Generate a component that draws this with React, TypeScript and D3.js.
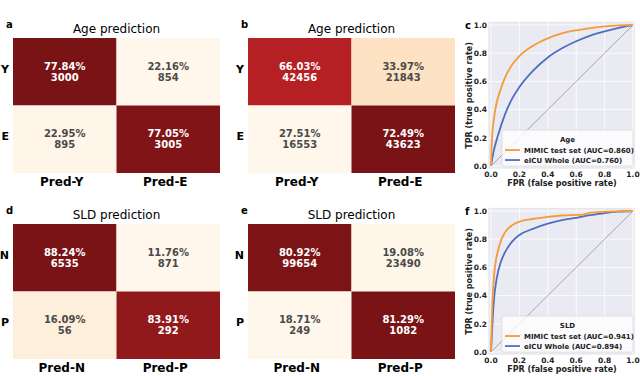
import React from "react";
import * as d3 from "d3";

// confusion matrices: [row][col] percent and counts
const agePctA = [[77.84, 22.16], [22.95, 77.05]];
const ageCntA = [[3000, 854], [895, 3005]];
const agePctB = [[66.03, 33.97], [27.51, 72.49]];
const ageCntB = [[42456, 21843], [16553, 43623]];
const sldPctD = [[88.24, 11.76], [16.09, 83.91]];
const sldCntD = [[6535, 871], [56, 292]];
const sldPctE = [[80.92, 19.08], [18.71, 81.29]];
const sldCntE = [[99654, 23490], [249, 1082]];

const ageRows = ["Y", "E"];
const ageCols = ["Pred-Y", "Pred-E"];
const sldRows = ["N", "P"];
const sldCols = ["Pred-N", "Pred-P"];

// ROC curves [fpr, tpr]
const ageMimic = [[0, 0], [0.005, 0.15], [0.01, 0.24], [0.02, 0.33], [0.04, 0.45], [0.06, 0.52], [0.1, 0.63], [0.15, 0.72], [0.2, 0.78], [0.3, 0.855], [0.4, 0.905], [0.5, 0.94], [0.6, 0.962], [0.7, 0.978], [0.8, 0.99], [0.9, 0.997], [1, 1]];
const ageEicu = [[0, 0], [0.01, 0.06], [0.02, 0.11], [0.05, 0.22], [0.1, 0.37], [0.15, 0.48], [0.2, 0.56], [0.3, 0.68], [0.4, 0.77], [0.5, 0.835], [0.6, 0.885], [0.7, 0.925], [0.8, 0.955], [0.9, 0.98], [1, 1]];
const sldMimic = [[0, 0], [0.005, 0.2], [0.01, 0.35], [0.02, 0.52], [0.03, 0.62], [0.05, 0.72], [0.07, 0.79], [0.1, 0.85], [0.15, 0.9], [0.2, 0.925], [0.3, 0.945], [0.4, 0.958], [0.5, 0.968], [0.6, 0.972], [0.65, 0.975], [0.7, 0.988], [0.8, 0.995], [0.9, 0.998], [1, 1]];
const sldEicu = [[0, 0], [0.005, 0.1], [0.01, 0.2], [0.02, 0.36], [0.04, 0.52], [0.07, 0.64], [0.1, 0.71], [0.15, 0.785], [0.2, 0.83], [0.3, 0.875], [0.4, 0.91], [0.5, 0.935], [0.6, 0.952], [0.7, 0.97], [0.8, 0.985], [0.9, 0.995], [1, 1]];

const ticks = [0, 0.2, 0.4, 0.6, 0.8, 1.0];

const FONT = "DejaVu Sans";
const ORANGE = "#f59b38";
const BLUE = "#4c6fc3";

const cmap = d3.scaleLinear<string>()
  .domain([0, 0.14, 0.5, 0.86, 1])
  .range(["#fff7ec", "#fde3c4", "#f0704e", "#b41f24", "#7a1315"]);

function Heatmap({ x0, y0, letter, title, pct, cnt, rows, cols }: any) {
  const w = 207, h = 135;
  const xb = d3.scaleBand().domain(cols).range([x0, x0 + w]);
  const yb = d3.scaleBand().domain(rows).range([y0, y0 + h]);
  const flat = pct.flat();
  const norm = d3.scaleLinear().domain([d3.min(flat), d3.max(flat)]).range([0, 1]);
  return (
    <g fontFamily={FONT}>
      <text x={x0 - 7} y={y0 - 10} fontSize={10} fontWeight="bold">{letter}</text>
      <text x={x0 + w / 2} y={y0 - 5} fontSize={12} textAnchor="middle">{title}</text>
      {rows.map((r: string, i: number) => cols.map((c: string, j: number) => {
        const t = norm(pct[i][j]);
        const cx = (xb(c) as number) + xb.bandwidth() / 2;
        const cy = (yb(r) as number) + yb.bandwidth() / 2;
        const fill = t > 0.5 ? "#ffffff" : "#4a4a4a";
        return (
          <g key={r + c}>
            <rect x={xb(c)} y={yb(r)} width={xb.bandwidth()} height={yb.bandwidth()} fill={cmap(t)} />
            <text x={cx} y={cy - 2} fontSize={10} fontWeight="bold" textAnchor="middle" fill={fill}>{pct[i][j].toFixed(2)}%</text>
            <text x={cx} y={cy + 9} fontSize={10} fontWeight="bold" textAnchor="middle" fill={fill}>{cnt[i][j]}</text>
          </g>
        );
      }))}
      {rows.map((r: string) => (
        <text key={r} x={x0 - 4} y={(yb(r) as number) + yb.bandwidth() / 2 + 1} fontSize={11} fontWeight="bold" textAnchor="end">{r}</text>
      ))}
      {cols.map((c: string) => (
        <text key={c} x={(xb(c) as number) + xb.bandwidth() / 2 - 3} y={y0 + h + 13} fontSize={12} fontWeight="bold" textAnchor="middle">{c}</text>
      ))}
    </g>
  );
}

function Roc({ top, letter, legendTitle, mimic, eicu, aucM, aucE }: any) {
  const x = d3.scaleLinear().domain([0, 1]).range([491, 633]);
  const y = d3.scaleLinear().domain([0, 1]).range([top + 141, top]);
  const line = d3.line<number[]>().x(d => x(d[0])).y(d => y(d[1])).curve(d3.curveMonotoneX);
  const lx = 502, ly = y(0.255), lw = 131, lh = 36;
  return (
    <g fontFamily={FONT}>
      <rect x={x(-0.015)} y={y(1.02)} width={x(1.01) - x(-0.015)} height={y(-0.015) - y(1.02)} fill="#eaeaf2" stroke="#dcdce4" strokeWidth={0.6} />
      {ticks.map(t => (
        <g key={t}>
          <line x1={x(t)} x2={x(t)} y1={y(-0.015)} y2={y(1.02)} stroke="#fff" strokeWidth={0.8} />
          <line x1={x(-0.015)} x2={x(1.01)} y1={y(t)} y2={y(t)} stroke="#fff" strokeWidth={0.8} />
          <text x={x(t)} y={y(0) + 11} fontSize={7.5} fontWeight="bold" textAnchor="middle" fill="#222">{t.toFixed(1)}</text>
          <text x={x(0) - 4} y={y(t) + 2.7} fontSize={7.5} fontWeight="bold" textAnchor="end" fill="#222">{t.toFixed(1)}</text>
        </g>
      ))}
      <line x1={x(0)} y1={y(0)} x2={x(1)} y2={y(1)} stroke="#888" strokeWidth={0.7} />
      <path d={line(eicu) as string} fill="none" stroke={BLUE} strokeWidth={1.8} />
      <path d={line(mimic) as string} fill="none" stroke={ORANGE} strokeWidth={1.8} />
      <rect x={lx} y={ly} width={lw} height={lh} rx={2} fill="#ffffff" fillOpacity={0.8} stroke="#d0d0d0" strokeWidth={0.6} />
      <text x={lx + lw / 2} y={ly + 12} fontSize={7} fontWeight="bold" textAnchor="middle" fill="#222">{legendTitle}</text>
      <line x1={lx + 3} x2={lx + 18} y1={ly + 20} y2={ly + 20} stroke={ORANGE} strokeWidth={1.8} />
      <text x={lx + 22} y={ly + 22.5} fontSize={7} fontWeight="bold" fill="#222">{`MIMIC test set (AUC=${aucM})`}</text>
      <line x1={lx + 3} x2={lx + 18} y1={ly + 30} y2={ly + 30} stroke={BLUE} strokeWidth={1.8} />
      <text x={lx + 22} y={ly + 32.5} fontSize={7} fontWeight="bold" fill="#222">{`eICU Whole (AUC=${aucE})`}</text>
      <text x={465} y={top + 4} fontSize={10} fontWeight="bold">{letter}</text>
      <text x={562} y={top + 161} fontSize={8} fontWeight="bold" textAnchor="middle" fill="#222">FPR (false positive rate)</text>
      <text transform={`translate(472,${y(0.5)}) rotate(-90)`} fontSize={8} fontWeight="bold" textAnchor="middle" fill="#222">TPR (true positive rate)</text>
    </g>
  );
}

export default function App() {
  return (
    <svg width={640} height={376} style={{ position: "absolute", left: 0, top: 0, background: "#fff" }}>
      <Heatmap x0={13} y0={38} letter="a" title="Age prediction" pct={agePctA} cnt={ageCntA} rows={ageRows} cols={ageCols} />
      <Heatmap x0={248} y0={38} letter="b" title="Age prediction" pct={agePctB} cnt={ageCntB} rows={ageRows} cols={ageCols} />
      <Heatmap x0={13} y0={224} letter="d" title="SLD prediction" pct={sldPctD} cnt={sldCntD} rows={sldRows} cols={sldCols} />
      <Heatmap x0={248} y0={224} letter="e" title="SLD prediction" pct={sldPctE} cnt={sldCntE} rows={sldRows} cols={sldCols} />
      <Roc top={25} letter="c" legendTitle="Age" mimic={ageMimic} eicu={ageEicu} aucM="0.860" aucE="0.760" />
      <Roc top={211} letter="f" legendTitle="SLD" mimic={sldMimic} eicu={sldEicu} aucM="0.941" aucE="0.894" />
    </svg>
  );
}
